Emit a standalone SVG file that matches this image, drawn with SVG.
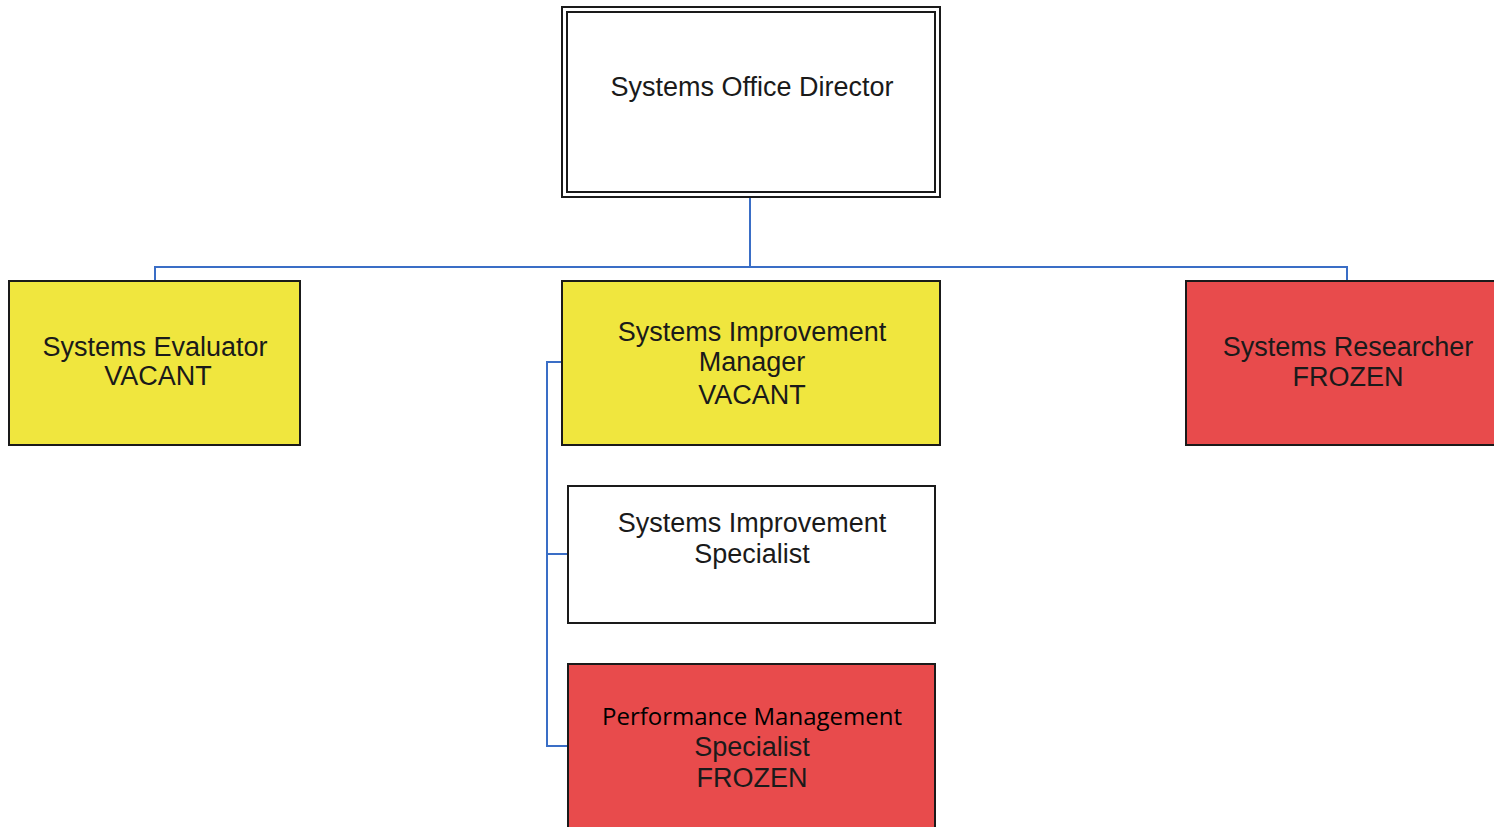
<svg xmlns="http://www.w3.org/2000/svg" width="1494" height="827" viewBox="0 0 1494 827">
<style>
.box{stroke:#1a1a1a;stroke-width:2}
.yellow{fill:#f0e63e}
.red{fill:#e84b4c}
.white{fill:#ffffff}
.t{font-family:"Liberation Sans",Arial,sans-serif;font-size:27px;fill:#1a1a1a;text-anchor:middle}
.t2{font-family:"Open Sans","Noto Sans",sans-serif;font-size:24px;fill:#000;text-anchor:middle}
.conn{fill:none;stroke:#3a6ec6;stroke-width:2}
</style>
<rect width="1494" height="827" fill="#ffffff"/>
<g id="connectors">
<path class="conn" d="M750 197 V267 M155 280 V267 H1347 V280"/>
<path class="conn" d="M562 362 H547 V746 H568 M547 554 H568"/>
</g>
<g id="director">
<rect class="box white" x="562" y="7" width="378" height="190"/>
<rect class="box white" x="567" y="12" width="368" height="180"/>
<text class="t" x="752" y="96">Systems Office Director</text>
</g>
<g id="evaluator">
<rect class="box yellow" x="9" y="281" width="291" height="164"/>
<text class="t" x="155" y="356">Systems Evaluator</text>
<text class="t" x="158" y="385">VACANT</text>
</g>
<g id="manager">
<rect class="box yellow" x="562" y="281" width="378" height="164"/>
<text class="t" x="752" y="341">Systems Improvement</text>
<text class="t" x="752" y="371">Manager</text>
<text class="t" x="752" y="404">VACANT</text>
</g>
<g id="researcher">
<rect class="box red" x="1186" y="281" width="320" height="164"/>
<text class="t" x="1348" y="356">Systems Researcher</text>
<text class="t" x="1348" y="386">FROZEN</text>
</g>
<g id="specialist">
<rect class="box white" x="568" y="486" width="367" height="137"/>
<text class="t" x="752" y="532">Systems Improvement</text>
<text class="t" x="752" y="563">Specialist</text>
</g>
<g id="performance">
<rect class="box red" x="568" y="664" width="367" height="175"/>
<text class="t2" x="752" y="725">Performance Management</text>
<text class="t" x="752" y="756">Specialist</text>
<text class="t" x="752" y="787">FROZEN</text>
</g>
</svg>
